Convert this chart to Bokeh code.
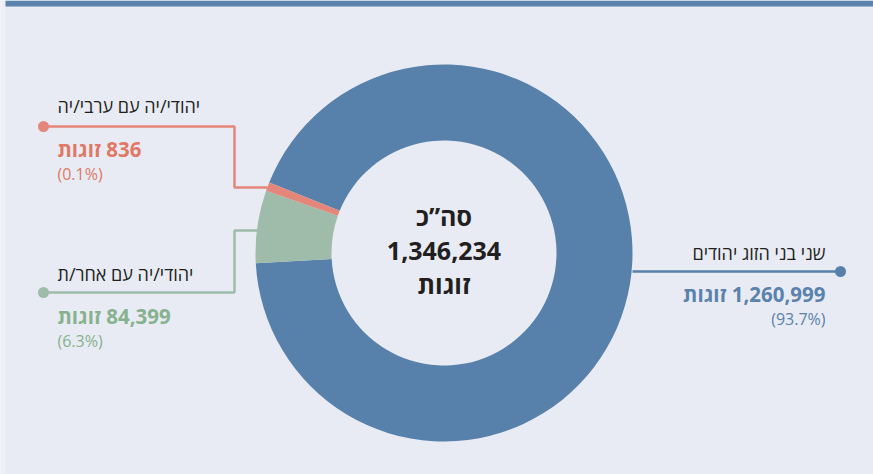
import math
from bokeh.plotting import figure
from bokeh.models import Range1d, ColumnDataSource
from bokeh.core.properties import value
from bokeh.embed import file_html
from bokeh.resources import INLINE

# ---------------- data ----------------
categories = ["שני בני הזוג יהודים", "יהודי/יה עם אחר/ת", "יהודי/יה עם ערבי/יה"]
couples = [1260999, 84399, 836]
unit_word = "זוגות"
total_title = "סה”כ"

# ---------------- style ----------------
W, H = 873, 474
BG = "#e8ebf3"
SLICE_COLORS = ["#5781aa", "#9ebca9", "#e4877a"]
TEXT_COLORS = ["#5a82ac", "#86b28f", "#e07866"]
DARK = "#231f20"
FONT = "Open Sans"
MIN_FRAC = 0.0075      # smallest slice shown at least this wide
START_DEG = 158.0      # where the drawing of the ring starts (anticlockwise)


def X(px):
    return px


def Y(py):
    return H - py


total = sum(couples)
fracs = [v / total for v in couples]
disp = [max(f, MIN_FRAC) for f in fracs]
s = sum(disp)
disp = [d / s for d in disp]

# anticlockwise drawing order: smallest first, then medium, then largest
order = [2, 1, 0]
starts, ends = [0.0] * 3, [0.0] * 3
a = START_DEG
for i in order:
    starts[i] = math.radians(a)
    a += disp[i] * 360.0
    ends[i] = math.radians(a)

CX, CY = X(443.5), Y(252.5)
R_OUT, R_IN = 188.5, 112.5

p = figure(width=W, height=H, output_backend="svg", toolbar_location=None,
           x_range=Range1d(0, W), y_range=Range1d(0, H),
           min_border=0, background_fill_color=BG, border_fill_color=BG)
p.axis.visible = False
p.grid.visible = False
p.outline_line_color = None

# left light edge and top strip
p.quad(left=[0], right=[5], top=[H], bottom=[0], color="#eef0f6", line_color=None)
p.quad(left=[5], right=[W], top=[H], bottom=[H - 6], color="#5a83ad", line_color=None)

src = ColumnDataSource(dict(start=starts, end=ends, color=SLICE_COLORS))
p.annular_wedge(x=CX, y=CY, inner_radius=R_IN, outer_radius=R_OUT,
                start_angle="start", end_angle="end",
                direction="anticlock", color="color", line_color=None, source=src)

# leader lines (page coordinates)
legs = {
    2: [(43, 126), (234, 126), (234, 187), (267, 187)],
    1: [(43, 292), (234, 292), (234, 230), (257, 230)],
    0: [(632, 271), (840, 271)],
}
dots = {2: (43, 126), 1: (43, 292), 0: (840, 271)}
for i, pts in legs.items():
    p.line([X(x) for x, _ in pts], [Y(y) for _, y in pts],
           line_color=SLICE_COLORS[i], line_width=2.5)
    dx, dy = dots[i]
    p.scatter([X(dx)], [Y(dy)], size=11, color=SLICE_COLORS[i], line_color=None)

# labels
RLM = "\u200f"
label_pos = {
    # i: (x, align, title_y, count_y, pct_y)
    2: (57, "left", 105, 148, 173),
    1: (57, "left", 273, 315, 340),
    0: (825, "right", 252, 293, 318),
}
for i, (lx, al, ty, ny, py) in label_pos.items():
    p.text([X(lx)], [Y(ty)], text=[categories[i]], text_align=al,
           text_baseline="middle", text_font=value(FONT), text_font_size="18px",
           text_color=DARK)
    p.text([X(lx)], [Y(ny)], text=[f"{RLM}{couples[i]:,} {unit_word}"], text_align=al,
           text_baseline="middle", text_font=value(FONT), text_font_size="20.5px",
           text_font_style="bold", text_color=TEXT_COLORS[i])
    p.text([X(lx)], [Y(py)], text=[f"({fracs[i] * 100:.1f}%)"], text_align=al,
           text_baseline="middle", text_font=value(FONT), text_font_size="16px",
           text_color=TEXT_COLORS[i])

# centre text
for txt, ty in [(total_title, 215), (f"{total:,}", 250), (unit_word, 283)]:
    p.text([CX], [Y(ty)], text=[txt], text_align="center", text_baseline="middle",
           text_font=value(FONT), text_font_size="25px", text_font_style="bold",
           text_color=DARK)

open("out.html", "w").write(file_html(p, INLINE))
